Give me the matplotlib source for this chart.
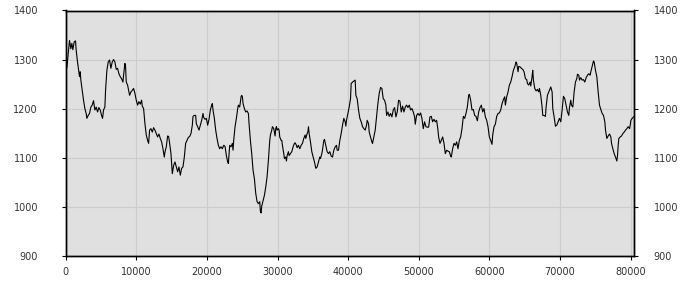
import matplotlib
matplotlib.use('Agg')
import matplotlib.pyplot as plt

# values (x position, value)
xs = [
    0, 150, 525, 714, 856, 998, 1187, 1376, 1470, 1659, 1848, 1943, 2038, 2132,
    2321, 2510, 2699, 2888, 2983, 3172, 3361, 3550, 3739, 3928, 4117, 4306,
    4496, 4685, 4874, 5063, 5205, 5346, 5535, 5630, 5819, 6008, 6197, 6386,
    6575, 6765, 6954, 7143, 7332, 7521, 7710, 7899, 8088, 8183, 8372, 8466,
    8561, 8750, 8939, 9034, 9223, 9412, 9601, 9790, 9979, 10168, 10357, 10546,
    10735, 10830, 11019, 11208, 11397, 11586, 11728,
    11869, 12058, 12247, 12436, 12625, 12814, 13003, 13192, 13381, 13570,
    13759, 13949, 14043, 14232, 14421, 14563, 14705, 14894, 14988, 15083,
    15272, 15461, 15650, 15839, 16028, 16217, 16407, 16596, 16785, 16974,
    17163, 17352, 17541, 17730, 17919, 18014, 18203, 18392, 18486, 18676,
    18865, 19054, 19243, 19432, 19526, 19715, 19904, 20094, 20283, 20472,
    20661, 20755, 20850, 21039, 21228, 21417, 21606, 21795, 21984, 22173,
    22363, 22552, 22741, 22930, 23024, 23119, 23213, 23402, 23591,
    23685, 23780, 23969, 24158, 24347, 24441, 24630, 24820, 24914, 25009,
    25103, 25292, 25481, 25670, 25860, 25954, 26143, 26332, 26521, 26710,
    26899, 27089, 27278, 27467, 27561, 27656, 27750, 27939, 28128, 28318,
    28507, 28696, 28885, 28979, 29168, 29263, 29452, 29547, 29641, 29736,
    29830, 29925, 30114, 30208, 30303, 30492, 30587, 30681, 30870, 30965,
    31154, 31248, 31343, 31532, 31626, 31816, 32005, 32194, 32383, 32477,
    32666, 32761, 32950, 33139, 33328, 33517, 33706, 33895, 33990, 34179,
    34274, 34368, 34463, 34652, 34841, 35030, 35219, 35408,
    35596, 35785, 35974, 36069, 36258, 36352, 36541, 36636, 36825, 37014,
    37203, 37392, 37581, 37771, 37960, 38149, 38338, 38432, 38621, 38810,
    38999, 39189, 39378, 39567, 39661, 39756, 39945, 40134, 40323, 40418,
    40607, 40796, 40985, 41079, 41268, 41458, 41647, 41836, 42025, 42214,
    42403, 42592, 42687, 42876, 42970, 43159, 43348, 43443, 43632, 43821,
    44010, 44199, 44388, 44577, 44766, 44956, 45145, 45334, 45428, 45617,
    45806, 45995, 46185, 46374, 46563, 46752, 46941, 47130, 47319,
    47508, 47697, 47886, 48075, 48264, 48453, 48643, 48832, 49021, 49210,
    49399, 49493, 49683, 49872, 50061, 50250, 50439, 50628, 50817, 51006,
    51195, 51384, 51573, 51762, 51951, 52141, 52330, 52519, 52708, 52802,
    52991, 53180, 53370, 53559, 53748, 53937, 54126, 54315, 54504, 54599,
    54788, 54977, 55166, 55355, 55544, 55733, 55922, 56111, 56300, 56489,
    56678, 56868, 57057, 57151, 57340, 57529, 57718, 57907, 58097, 58286,
    58475, 58664, 58853, 59042, 59231,
    59419, 59608, 59797, 59986, 60175, 60364, 60459, 60648, 60837, 61026,
    61215, 61404, 61594, 61783, 61972, 62161, 62255, 62444, 62633, 62823,
    63012, 63201, 63390, 63579, 63768, 63862, 64052, 64146, 64335, 64524,
    64713, 64902, 65091, 65281, 65375, 65564, 65753, 65848, 66037, 66131,
    66226, 66415, 66604, 66793, 66982, 67077, 67266, 67455, 67550, 67739,
    67928, 68022, 68211, 68401, 68590, 68684, 68873, 68968, 69157, 69346,
    69535, 69724, 69913, 70102, 70291, 70480, 70669, 70858, 71048, 71237,
    71330, 71519, 71614, 71803, 71897, 71992, 72181, 72370, 72465, 72654,
    72748, 72937, 73126, 73315, 73505, 73694, 73883, 74072, 74261, 74355,
    74544, 74734, 74828, 75017, 75206, 75395, 75584, 75773, 75963, 76152,
    76341, 76435, 76624, 76813, 77002, 77192, 77286, 77475, 77664, 77853,
    78043, 78137, 78232, 78326, 78515, 78704, 78894, 79083, 79272, 79461,
    79650, 79839, 79934, 80028, 80217, 80406,
]
ys = [
    1295, 1283, 1339, 1322, 1333, 1320, 1336, 1338, 1319, 1295, 1275, 1265, 1275, 1258,
    1237, 1217, 1200, 1190, 1180, 1186, 1190, 1203, 1207, 1216, 1197, 1203,
    1193, 1202, 1197, 1186, 1180, 1197, 1203, 1237, 1278, 1295, 1299, 1282,
    1295, 1300, 1295, 1280, 1282, 1271, 1265, 1261, 1254, 1268, 1292, 1285,
    1254, 1248, 1234, 1227, 1234, 1237, 1241, 1231, 1217, 1207, 1214, 1209,
    1217, 1205, 1200, 1169, 1146, 1135, 1129,
    1156, 1159, 1152, 1161, 1156, 1149, 1142, 1148, 1139, 1132,
    1118, 1101, 1111, 1122, 1144, 1143, 1129, 1108, 1088, 1067,
    1084, 1091, 1081, 1071, 1081, 1064, 1078, 1081, 1101, 1129,
    1135, 1141, 1143, 1149, 1166, 1184, 1186, 1186, 1169, 1163,
    1156, 1166, 1176, 1190, 1182, 1178, 1180, 1166, 1178, 1197,
    1207, 1210, 1197, 1180, 1156, 1139, 1125, 1118, 1122, 1118,
    1125, 1123, 1104, 1091, 1088, 1108, 1125, 1122, 1129,
    1115, 1135, 1163, 1180, 1200, 1207, 1203, 1224, 1227, 1224,
    1210, 1200, 1193, 1195, 1190, 1169, 1135, 1108, 1074, 1057,
    1027, 1010, 1006, 1010, 990, 987, 1001, 1012, 1023, 1040,
    1061, 1095, 1135, 1146, 1156, 1163, 1159, 1152, 1144, 1159,
    1163, 1156, 1159, 1156, 1142, 1135, 1135, 1125, 1108, 1098,
    1101, 1093, 1104, 1112, 1104, 1108, 1112, 1122, 1129, 1130,
    1125, 1120, 1125, 1118, 1125, 1129, 1139, 1146, 1139, 1149,
    1152, 1163, 1149, 1132, 1112, 1101, 1091, 1078,
    1081, 1091, 1101, 1098, 1108, 1115, 1135, 1137, 1125, 1112,
    1108, 1112, 1103, 1101, 1115, 1122, 1125, 1115, 1115, 1135,
    1149, 1166, 1180, 1173, 1164, 1176, 1190, 1203, 1220, 1251,
    1254, 1256, 1258, 1227, 1220, 1197, 1180, 1173, 1163, 1159,
    1156, 1166, 1176, 1169, 1152, 1142, 1132, 1129, 1142, 1156,
    1183, 1210, 1231, 1243, 1241, 1220, 1217, 1207, 1186, 1193,
    1184, 1190, 1183, 1197, 1202, 1183, 1193, 1217, 1215,
    1193, 1205, 1193, 1203, 1207, 1202, 1207, 1197, 1200, 1193,
    1183, 1168, 1186, 1190, 1186, 1191, 1180, 1159, 1173, 1163,
    1162, 1162, 1183, 1184, 1173, 1178, 1173, 1176, 1156, 1142,
    1129, 1135, 1142, 1129, 1108, 1115, 1113, 1112, 1103, 1101,
    1118, 1129, 1125, 1132, 1118, 1135, 1142, 1159, 1184, 1180,
    1190, 1203, 1227, 1229, 1217, 1197, 1198, 1186, 1184, 1175,
    1193, 1202, 1207, 1193, 1200,
    1183, 1176, 1163, 1142, 1135, 1127, 1146, 1163, 1168, 1184,
    1190, 1191, 1197, 1210, 1218, 1224, 1207, 1224, 1234, 1248,
    1254, 1265, 1278, 1285, 1295, 1292, 1275, 1286, 1285, 1282,
    1280, 1275, 1261, 1259, 1251, 1248, 1254, 1246, 1265, 1278,
    1258, 1241, 1236, 1239, 1234, 1241, 1227, 1203, 1186, 1186,
    1184, 1203, 1227, 1234, 1241, 1244, 1234, 1200, 1183, 1164,
    1166, 1173, 1180, 1173, 1197, 1225, 1220, 1207, 1193, 1186,
    1202, 1217, 1207, 1203, 1217, 1234, 1254, 1261, 1270, 1268,
    1258, 1263, 1258, 1259, 1254, 1263, 1268, 1271, 1268, 1275,
    1286, 1297, 1295, 1278, 1265, 1234, 1207, 1198, 1190, 1186,
    1173, 1156, 1139, 1144, 1148, 1142, 1129, 1118, 1108, 1101,
    1093, 1104, 1125, 1139, 1142, 1144, 1149, 1152, 1156, 1159,
    1163, 1159, 1166, 1176, 1180, 1183,
]

xticks = [0, 10000, 20000, 30000, 40000, 50000, 60000, 70000, 80000]
yticks = [900, 1000, 1100, 1200, 1300, 1400]

fig = plt.figure(figsize=(7, 3), dpi=100)
ax = fig.add_axes([0.094, 0.148, 0.812, 0.817])

# gray background with light grid
ax.set_facecolor('#e0e0e0')
ax.grid(True, color='#cccccc', linewidth=0.8)
ax.set_axisbelow(True)

ax.plot(xs, ys, color='black', linewidth=0.8)

ax.set_xlim(0, 80500)
ax.set_ylim(900, 1400)
ax.set_xticks(xticks)
ax.set_yticks(yticks)
ax.tick_params(axis='y', length=3, labelsize=7, labelcolor='#333333', pad=17)
ax.tick_params(axis='x', length=3, labelsize=7, labelcolor='#333333', pad=5)

# right side labels: same scale, smaller gap
ax2 = ax.twinx()
ax2.set_ylim(900, 1400)
ax2.set_yticks(yticks)
ax2.tick_params(axis='y', length=3, labelsize=7, labelcolor='#333333', pad=11)

for a in (ax, ax2):
    for s in a.spines.values():
        s.set_color('black')
        s.set_linewidth(1)

fig.savefig('out.png', dpi=100)
